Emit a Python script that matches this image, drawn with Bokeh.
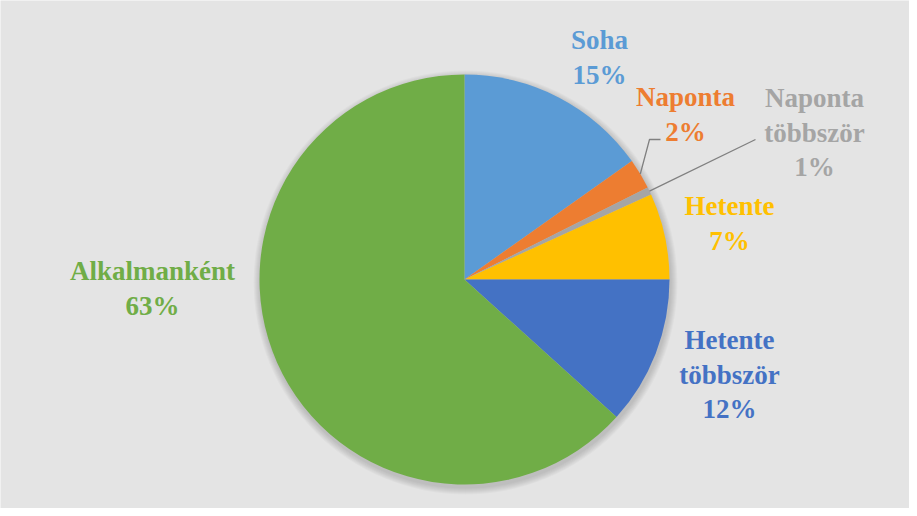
import math
from bokeh.plotting import figure
from bokeh.models import Range1d, ColumnDataSource
from bokeh.core.properties import value
from bokeh.embed import file_html
from bokeh.resources import INLINE

# ---- data ----
categories = ["Soha", "Naponta", "Naponta többször", "Hetente", "Hetente többször", "Alkalmanként"]
shares = [15.2, 2.4, 0.6, 6.8, 11.7, 63.3]
pct_labels = ["15%", "2%", "1%", "7%", "12%", "63%"]
label_lines = ["Soha", "Naponta", "Naponta\ntöbbször", "Hetente", "Hetente\ntöbbször", "Alkalmanként"]
colors = ["#5B9BD5", "#ED7D31", "#A5A5A5", "#FFC000", "#4472C4", "#70AD47"]

# ---- layout (screen px) ----
W, H = 909, 508
OFFX, OFFY = 8, 8
BG = "#E4E4E4"
cx_s, cy_s, R = 472, 287, 205
label_pos_s = [(607, 65), (693, 122), (822, 140), (737, 231), (737, 382), (160, 296)]


def to_data(xs, ys):
    return xs - OFFX, (H + OFFY) - ys


cx, cy = to_data(cx_s, cy_s)

p = figure(width=W, height=H, output_backend="svg", toolbar_location=None,
           x_range=Range1d(0, W), y_range=Range1d(0, H),
           x_axis_location=None, y_axis_location=None, min_border=0)
p.grid.visible = False
p.outline_line_color = None
p.background_fill_color = BG
p.border_fill_color = BG

# soft shadow
for k in range(7, 0, -1):
    p.circle(x=[cx + 1], y=[cy - 3], radius=R + k, fill_color="black", fill_alpha=0.025, line_color=None)

total = sum(shares)
starts, ends, mids = [], [], []
c = 0.0
for s in shares:
    a0 = math.pi / 2 - 2 * math.pi * c / total
    c += s
    a1 = math.pi / 2 - 2 * math.pi * c / total
    starts.append(a0)
    ends.append(a1)
    mids.append((a0 + a1) / 2)

src = ColumnDataSource(dict(start=starts, end=ends, color=colors))
p.wedge(x=cx, y=cy, radius=R, start_angle="start", end_angle="end", direction="clock",
        fill_color="color", line_color=None, source=src)

# leader lines for the two small slices
leader_color = "#808080"
# Naponta: elbow line
m = mids[1]
sx, sy = cx + R * math.cos(m), cy + R * math.sin(m)
ex, ey = to_data(657, 147)
hx, hy = to_data(668, 147)
p.line(x=[sx, ex, hx], y=[sy, ey, hy], line_color=leader_color, line_width=1.3)
# Naponta többször: straight line
m = mids[2]
sx, sy = cx + R * math.cos(m), cy + R * math.sin(m)
ex, ey = to_data(763, 147)
p.line(x=[sx, ex], y=[sy, ey], line_color=leader_color, line_width=1.3)

# labels
lx, ly, txt = [], [], []
for (xs, ys), nm, pc in zip(label_pos_s, label_lines, pct_labels):
    x, y = to_data(xs, ys)
    lx.append(x)
    ly.append(y)
    txt.append(nm + "\n" + pc)
lsrc = ColumnDataSource(dict(x=lx, y=ly, text=txt, color=colors))
p.text(x="x", y="y", text="text", text_color="color", source=lsrc,
       text_font=value("Liberation Serif"), text_font_style="bold", text_font_size="27px",
       text_align="center", text_baseline="middle", text_line_height=1.15)

open("out.html", "w").write(file_html(p, INLINE))
